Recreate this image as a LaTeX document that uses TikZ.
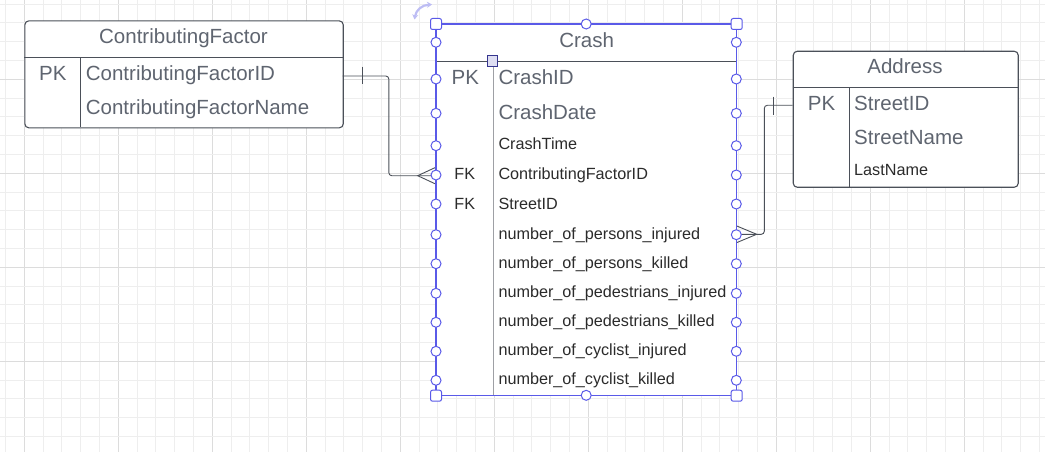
\documentclass[tikz,border=0pt]{standalone}
\usepackage{fontspec}
\setmainfont{Liberation Sans}
\usetikzlibrary{arrows.meta}
\definecolor{gridminor}{HTML}{EEEEEE}
\definecolor{gridmajor}{HTML}{DCDCDC}
\definecolor{tblline}{HTML}{4B5059}
\definecolor{titlegray}{HTML}{5F6570}
\definecolor{smalltxt}{HTML}{2B2B2B}
\definecolor{selblue}{HTML}{5A5AE8}
\definecolor{selfill}{HTML}{DEDEF2}
\definecolor{seldark}{HTML}{35358F}
\definecolor{rotcol}{HTML}{BDBDF4}
\definecolor{divgray}{HTML}{9EA0A5}
\newcommand{\lgf}{\fontsize{20.5}{24}\selectfont}
\newcommand{\smf}{\fontsize{16.2}{19}\selectfont}
\begin{document}
\begin{tikzpicture}[x=1pt,y=-1pt,
  tbl/.style={draw=tblline, line width=1.1pt, rounded corners=4pt, fill=white, anchor=north west, inner sep=0},
  tblsq/.style={draw=none, fill=white, anchor=north west, inner sep=0},
  sep/.style={draw=tblline, line width=1.1pt},
  ttl/.style={text=titlegray, inner sep=0, anchor=base, font=\lgf},
  bigl/.style={text=titlegray, inner sep=0, anchor=base west, font=\lgf},
  bigc/.style={text=titlegray, inner sep=0, anchor=base, font=\lgf},
  smal/.style={text=smalltxt, inner sep=0, anchor=base west, font=\smf},
  smac/.style={text=smalltxt, inner sep=0, anchor=base, font=\smf},
  conn/.style={draw=tblline, line width=0.9pt, rounded corners=3pt},
  hcirc/.style={circle, draw=selblue, fill=white, line width=1pt, minimum size=10pt, inner sep=0},
  hsq/.style={rectangle, rounded corners=2pt, draw=selblue, fill=white, line width=1pt, minimum size=11pt, inner sep=0},
]
\useasboundingbox (0,0) rectangle (1045,452);
\fill[white] (0,0) rectangle (1045,452);
% grid
\foreach \i in {0,...,55} {
  \pgfmathsetmacro\xx{5.5+18.8*\i}
  \pgfmathtruncatemacro\mm{mod(\i,5)}
  \ifnum\mm=1 \draw[gridmajor, line width=1pt] (\xx,0) -- (\xx,452);
  \else \draw[gridminor, line width=1pt] (\xx,0) -- (\xx,452); \fi
}
\foreach \j in {0,...,23} {
  \pgfmathsetmacro\yy{4.1+18.8*\j}
  \pgfmathtruncatemacro\mm{mod(\j,5)}
  \ifnum\mm=4 \draw[gridmajor, line width=1pt] (0,\yy) -- (1045,\yy);
  \else \draw[gridminor, line width=1pt] (0,\yy) -- (1045,\yy); \fi
}

% ---------- ContributingFactor ----------
\node[tbl, minimum width=318.4pt, minimum height=107pt] (cf) at (24.3,20.3) {};
\draw[sep] (24.3,57.7) -- (342.7,57.7);
\draw[sep] (80.3,57.7) -- (80.3,127.3);
\node[ttl] (cft) at (183.5,44.0) {ContributingFactor};
\node[bigc] (cfpk) at (52.8,80.6) {PK};
\node[bigl] (cfa1) at (85.7,80.6) {ContributingFactorID};
\node[bigl] (cfa2) at (85.7,114.6) {ContributingFactorName};

% ---------- Address ----------
\node[tbl, minimum width=225pt, minimum height=136pt] (ad) at (792.7,50.7) {};
\draw[sep] (792.7,87.7) -- (1017.7,87.7);
\draw[sep] (849.3,87.7) -- (849.3,186.7);
\node[ttl] (adt) at (905,74.0) {Address};
\node[bigc] (adpk) at (821.5,110.6) {PK};
\node[bigl] (ada1) at (854,110.6) {StreetID};
\node[bigl] (ada2) at (854,144.6) {StreetName};
\node[smal] (ada3) at (854,175.8) {LastName};

% ---------- Crash ----------
\node[tblsq, minimum width=300.3pt, minimum height=371.3pt] (cr) at (436,24) {};
\draw[sep] (436,61.3) -- (736.3,61.3);
\draw[draw=divgray, line width=1.1pt] (493.3,61.3) -- (493.3,395.3);
\node[ttl] (crt) at (586.7,48.0) {Crash};
\node[bigc] (crpk) at (465.3,84.6) {PK};
\node[bigl] (cra1) at (498.3,84.6) {CrashID};
\node[bigl] (cra2) at (498.3,119.0) {CrashDate};
\node[smal] (cra3) at (498.3,149.8) {CrashTime};
\node[smac] (crfk1) at (464.8,179.8) {FK};
\node[smal] (cra4) at (498.3,179.8) {ContributingFactorID};
\node[smac] (crfk2) at (464.8,209.1) {FK};
\node[smal] (cra5) at (498.3,209.1) {StreetID};
\node[smal] (cra6) at (498.3,239.8) {number\_of\_persons\_injured};
\node[smal] (cra7) at (498.3,268.5) {number\_of\_persons\_killed};
\node[smal] (cra8) at (498.3,297.8) {number\_of\_pedestrians\_injured};
\node[smal] (cra9) at (498.3,326.5) {number\_of\_pedestrians\_killed};
\node[smal] (cra10) at (498.3,355.8) {number\_of\_cyclist\_injured};
\node[smal] (cra11) at (498.3,384.8) {number\_of\_cyclist\_killed};

% ---------- Connectors ----------
\coordinate (c1s) at (342.7,76);
\coordinate (c1a) at (388.8,76);
\coordinate (c1b) at (388.8,175.7);
\coordinate (c1e) at (436,175.7);
\coordinate (c1apex) at (417.7,175.7);
\coordinate (c1p1) at (436,167.2);
\coordinate (c1p2) at (436,184.2);
\coordinate (c1bar1) at (362.3,66.7);
\coordinate (c1bar2) at (362.3,84.3);
\draw[conn] (c1s) -- (c1a) -- (c1b) -- (c1e);
\draw[draw=tblline, line width=0.9pt] (c1bar1) -- (c1bar2);
\draw[draw=tblline, line width=0.9pt] (c1p1) -- (c1apex) -- (c1p2);

\coordinate (c2s) at (792.7,105.3);
\coordinate (c2a) at (764.3,105.3);
\coordinate (c2b) at (764.3,234.3);
\coordinate (c2e) at (736.3,234.3);
\coordinate (c2apex) at (756.7,234.3);
\coordinate (c2p1) at (736.3,225.8);
\coordinate (c2p2) at (736.3,242.8);
\coordinate (c2bar1) at (773.3,96.7);
\coordinate (c2bar2) at (773.3,115);
\draw[conn] (c2s) -- (c2a) -- (c2b) -- (c2e);
\draw[draw=tblline, line width=0.9pt] (c2bar1) -- (c2bar2);
\draw[draw=tblline, line width=0.9pt] (c2p1) -- (c2apex) -- (c2p2);

% ---------- Selection overlay ----------
\draw[selblue, line width=1.3pt] (cr.north west) rectangle (cr.south east);
\foreach \yy in {42.3,79,113.3,145.7,175,204,234.7,263.7,293.3,322.3,351.3,380.3} {
  \node[hcirc] at (436,\yy) {};
  \node[hcirc] at (736.3,\yy) {};
}
\node[hcirc] (hmt) at (586.2,24) {};
\node[hcirc] (hmb) at (586.2,395.3) {};
\node[hsq] (hnw) at (cr.north west) {};
\node[hsq] (hne) at (cr.north east) {};
\node[hsq] (hsw) at (cr.south west) {};
\node[hsq] (hse) at (cr.south east) {};
\node[rectangle, draw=seldark, fill=selfill, line width=1pt, minimum size=10.5pt, inner sep=0] (hdiv) at (492.3,61) {};
% rotate icon
\draw[rotcol, line width=2.2pt, {Stealth[length=5pt,width=6pt]}-{Stealth[length=5pt,width=6pt]}]
  (414.5,19.5) .. controls (416,10) and (422,5) .. (432,4.5);
\end{tikzpicture}
\end{document}
